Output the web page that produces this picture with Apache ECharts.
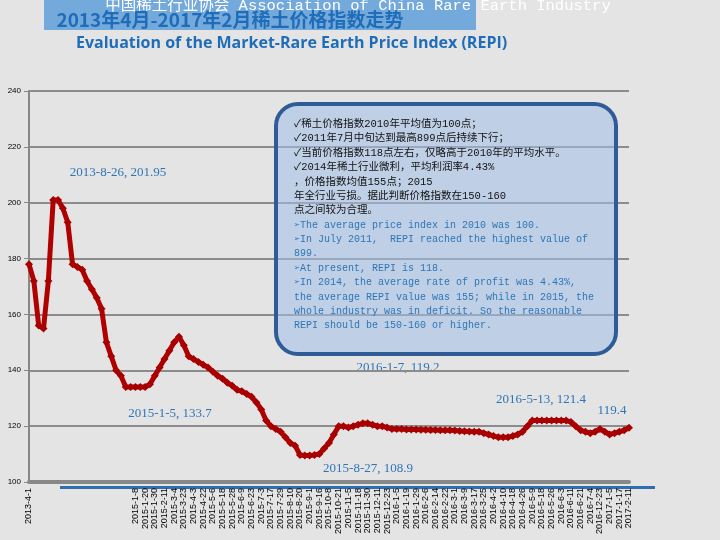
<!DOCTYPE html>
<html>
<head>
<meta charset="utf-8">
<script src="https://cdn.jsdelivr.net/npm/echarts@6/dist/echarts.min.js"></script>
<style>
  html, body { margin: 0; padding: 0; background: #e4e4e4; }
  #chart { width: 720px; height: 540px; }
</style>
</head>
<body>
<div id="chart"></div>
<script>
// 稀土价格指数，每两个点对应一个刻度位置
const values = [
  178, 172, 156, 155, 172, 201, 201, 198, 193, 178,
  177, 176, 172, 169, 166, 162, 150, 145, 140, 138,
  134, 134, 134, 134, 134, 135, 138, 141, 144, 147,
  150, 152, 149, 145, 144, 143, 142, 141, 139.5, 138,
  137, 135.5, 134.5, 133, 132.5, 131.5, 130.5, 128.5, 126, 122,
  120, 119, 118, 116, 114, 113, 109.7, 109.5, 109.5, 109.7,
  110, 112, 114, 117, 120, 120, 119.5, 120, 120.5, 121,
  121, 120.5, 120, 120, 119.5, 119, 119, 119, 118.8, 118.8,
  118.8, 118.7, 118.7, 118.6, 118.6, 118.5, 118.5, 118.5, 118.4, 118.3,
  118.2, 118.1, 118, 118, 117.5, 117, 116.5, 116, 116, 116,
  116.5, 117, 118, 120, 122, 122, 122, 122, 122, 122,
  122, 122, 121.5, 120, 118.5, 118, 117.5, 118, 119, 118,
  117, 117.5, 118, 118.5, 119.4
]
const firstLabel = '2013-4-1'
const tickLabels = [
  '2015-1-8', '2015-1-20', '2015-1-30', '2015-2-11', '2015-3-4', '2015-3-23', '2015-4-3', '2015-4-22',
  '2015-5-6', '2015-5-18', '2015-5-28', '2015-6-9', '2015-6-23', '2015-7-3', '2015-7-17', '2015-7-29',
  '2015-8-10', '2015-8-20', '2015-9-1', '2015-9-16', '2015-10-8', '2015-10-21', '2015-11-5', '2015-11-18',
  '2015-11-30', '2015-12-11', '2015-12-23', '2016-1-5', '2016-1-19', '2016-1-29', '2016-2-6', '2016-2-14',
  '2016-2-22', '2016-3-1', '2016-3-9', '2016-3-17', '2016-3-25', '2016-4-2', '2016-4-10', '2016-4-18',
  '2016-4-26', '2016-5-9', '2016-5-18', '2016-5-26', '2016-6-3', '2016-6-11', '2016-6-21', '2016-7-4',
  '2016-12-23', '2017-1-5', '2017-1-17', '2017-2-11'
]
const annotations = [
  ['2013-8-26, 201.95', 118, 173],
  ['2015-1-5, 133.7', 170, 414],
  ['2015-8-27, 108.9', 368, 469],
  ['2016-1-7, 119.2', 398, 368],
  ['2016-5-13, 121.4', 541, 400],
  ['119.4', 612, 411]
]
const noteCn = [
  '✓稀土价格指数2010年平均值为100点；',
  '✓2011年7月中旬达到最高899点后持续下行；',
  '✓当前价格指数118点左右，仅略高于2010年的平均水平。',
  '✓2014年稀土行业微利，平均利润率4.43%',
  '，价格指数均值155点；2015',
  '年全行业亏损。据此判断价格指数在150-160',
  '点之间较为合理。'
]
const noteEn = [
  '➢The average price index in 2010 was 100.',
  '➢In July 2011,  REPI reached the highest value of',
  '899.',
  '➢At present, REPI is 118.',
  '➢In 2014, the average rate of profit was 4.43%,',
  'the average REPI value was 155; while in 2015, the',
  'whole industry was in deficit. So the reasonable',
  'REPI should be 150-160 or higher.'
]

const categories = values.map((_, i) => {
  if (i === 0) return firstLabel
  if (i >= 22 && i % 2 === 0) return tickLabels[(i - 22) / 2] || ''
  return ''
})

const myChart = echarts.init(document.getElementById('chart'))

const serif = '"Liberation Serif", "DejaVu Serif", "Noto Sans CJK SC", serif'

const noteText = noteCn.map(s => '{cn|' + s + '}').concat(noteEn.map(s => '{en|' + s + '}')).join('\n')

const graphic = [
  { type: 'rect', shape: { x: 44, y: 0, width: 432, height: 30 }, style: { fill: '#74a9dc' }, z: -1 },
  { type: 'text', x: 358, y: 6, style: { text: '中国稀土行业协会 Association of China Rare Earth Industry', fill: '#ffffff', font: '15.5px "Liberation Mono", "Noto Sans CJK SC", monospace', align: 'center', verticalAlign: 'middle' } },
  { type: 'text', x: 230, y: 20, style: { text: '2013年4月-2017年2月稀土价格指数走势', fill: '#1f6db8', font: 'bold 19px "Noto Sans CJK SC", sans-serif', align: 'center', verticalAlign: 'middle' } },
  { type: 'text', x: 76, y: 43, style: { text: 'Evaluation of the Market-Rare Earth Price Index (REPI)', fill: '#1f6db8', font: 'bold 16px "Open Sans", sans-serif', verticalAlign: 'middle' } },
  { type: 'rect', shape: { x: 60, y: 486, width: 595, height: 3 }, style: { fill: '#2f6fb0' } },
  { type: 'rect', shape: { x: 276, y: 104, width: 340, height: 250, r: 22 }, style: { fill: 'rgba(160,192,232,0.55)', stroke: '#2f5b96', lineWidth: 4 }, z: 10 },
  {
    type: 'text', x: 294, y: 117, z: 11,
    style: {
      text: noteText,
      rich: {
        cn: { fill: '#111111', font: '10.5px "Liberation Mono", "Noto Sans CJK SC", monospace', lineHeight: 14.4 },
        en: { fill: '#2e75b6', font: '10px "Liberation Mono", monospace', lineHeight: 14.4 }
      }
    }
  }
]
annotations.forEach(([t, x, y]) => {
  graphic.push({ type: 'text', x: x, y: y, style: { text: t, fill: '#2e75b6', font: '13px ' + serif, align: 'center', verticalAlign: 'middle' } })
})

myChart.setOption({
  backgroundColor: '#e4e4e4',
  animation: false,
  grid: { left: 29, right: 91, top: 91, bottom: 58 },
  xAxis: {
    type: 'category',
    data: categories,
    boundaryGap: false,
    axisLine: { lineStyle: { color: '#888888', width: 4 } },
    axisTick: { show: false },
    axisLabel: { interval: 0, rotate: 90, fontSize: 9, color: '#000', fontFamily: 'Liberation Sans', margin: 6 }
  },
  yAxis: {
    type: 'value',
    min: 100,
    max: 240,
    interval: 20,
    axisLine: { show: true, lineStyle: { color: '#888888', width: 2 } },
    axisTick: { show: true, length: 5, lineStyle: { color: '#888888' } },
    axisLabel: { fontSize: 8, color: '#000', margin: 8 },
    splitLine: { lineStyle: { color: '#8c8c8c', width: 2 } }
  },
  series: [
    {
      type: 'line',
      data: values,
      symbol: 'diamond',
      symbolSize: 8,
      lineStyle: { color: '#b00000', width: 5 },
      itemStyle: { color: '#a80000' }
    }
  ],
  graphic: graphic
})
</script>
</body>
</html>
